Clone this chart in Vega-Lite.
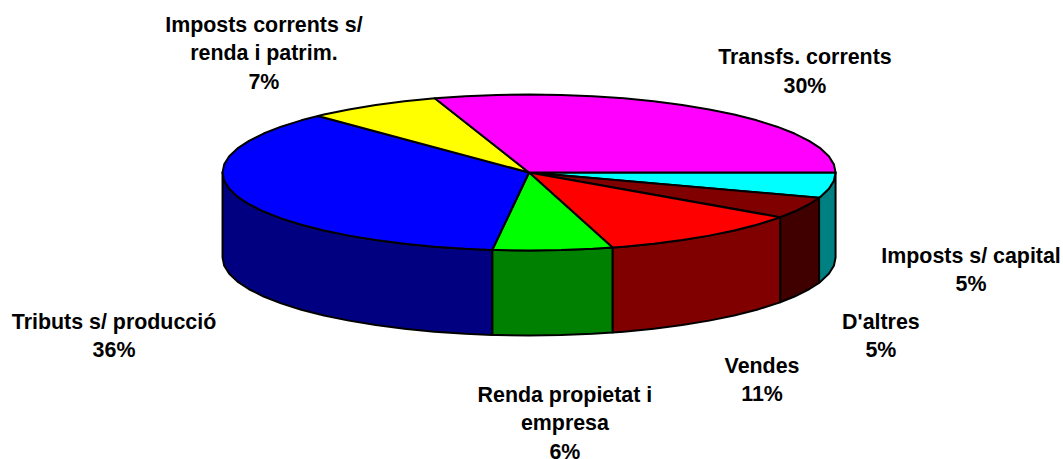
{"$schema":"https://vega.github.io/schema/vega-lite/v6.json","width":1063,"height":459,"padding":0,"autosize":"none","background":"white","config":{"view":{"stroke":null}},
"datasets":{"labels":[
{"label":"Imposts corrents s/\nrenda i patrim.\n7%","x":-86.5,"y":-188.5},
{"label":"Transfs. corrents\n30%","x":90,"y":-146.4},
{"label":"Imposts s/ capital\n5%","x":144.2,"y":108.1},
{"label":"D'altres\n5%","x":114.8,"y":192.7},
{"label":"Vendes\n11%","x":76,"y":249.1},
{"label":"Renda propietat i\nempresa\n6%","x":11.7,"y":286.1},
{"label":"Tributs s/ producció\n36%","x":-135.4,"y":192.6}],
"shapes":[
{"part":"Imposts s/ capital side","x":100,"y":0},{"part":"Imposts s/ capital side","x":99.45,"y":10.45},{"part":"Imposts s/ capital side","x":97.81,"y":20.79},{"part":"Imposts s/ capital side","x":95.11,"y":30.9},{"part":"Imposts s/ capital side","x":94.61,"y":32.39},{"part":"Imposts s/ capital side","x":94.61,"y":141.39},{"part":"Imposts s/ capital side","x":95.11,"y":139.9},{"part":"Imposts s/ capital side","x":97.81,"y":129.79},{"part":"Imposts s/ capital side","x":99.45,"y":119.45},{"part":"Imposts s/ capital side","x":100,"y":109},{"part":"Imposts s/ capital side","x":100,"y":0},
{"part":"D'altres side","x":94.61,"y":32.39},{"part":"D'altres side","x":91.35,"y":40.67},{"part":"D'altres side","x":86.6,"y":50},{"part":"D'altres side","x":81.92,"y":57.36},{"part":"D'altres side","x":81.92,"y":166.36},{"part":"D'altres side","x":86.6,"y":159},{"part":"D'altres side","x":91.35,"y":149.67},{"part":"D'altres side","x":94.61,"y":141.39},{"part":"D'altres side","x":94.61,"y":32.39},
{"part":"Vendes side","x":81.92,"y":57.36},{"part":"Vendes side","x":80.9,"y":58.78},{"part":"Vendes side","x":74.31,"y":66.91},{"part":"Vendes side","x":66.91,"y":74.31},{"part":"Vendes side","x":58.78,"y":80.9},{"part":"Vendes side","x":50,"y":86.6},{"part":"Vendes side","x":40.67,"y":91.35},{"part":"Vendes side","x":30.9,"y":95.11},{"part":"Vendes side","x":27.23,"y":96.22},{"part":"Vendes side","x":27.23,"y":205.22},{"part":"Vendes side","x":30.9,"y":204.11},{"part":"Vendes side","x":40.67,"y":200.35},{"part":"Vendes side","x":50,"y":195.6},{"part":"Vendes side","x":58.78,"y":189.9},{"part":"Vendes side","x":66.91,"y":183.31},{"part":"Vendes side","x":74.31,"y":175.91},{"part":"Vendes side","x":80.9,"y":167.78},{"part":"Vendes side","x":81.92,"y":166.36},{"part":"Vendes side","x":81.92,"y":57.36},
{"part":"Renda side","x":27.23,"y":96.22},{"part":"Renda side","x":20.79,"y":97.81},{"part":"Renda side","x":10.45,"y":99.45},{"part":"Renda side","x":0,"y":100},{"part":"Renda side","x":-10.45,"y":99.45},{"part":"Renda side","x":-12.01,"y":99.28},{"part":"Renda side","x":-12.01,"y":208.28},{"part":"Renda side","x":-10.45,"y":208.45},{"part":"Renda side","x":0,"y":209},{"part":"Renda side","x":10.45,"y":208.45},{"part":"Renda side","x":20.79,"y":206.81},{"part":"Renda side","x":27.23,"y":205.22},{"part":"Renda side","x":27.23,"y":96.22},
{"part":"Tributs side","x":-12.01,"y":99.28},{"part":"Tributs side","x":-20.79,"y":97.81},{"part":"Tributs side","x":-30.9,"y":95.11},{"part":"Tributs side","x":-40.67,"y":91.35},{"part":"Tributs side","x":-50,"y":86.6},{"part":"Tributs side","x":-58.78,"y":80.9},{"part":"Tributs side","x":-66.91,"y":74.31},{"part":"Tributs side","x":-74.31,"y":66.91},{"part":"Tributs side","x":-80.9,"y":58.78},{"part":"Tributs side","x":-86.6,"y":50},{"part":"Tributs side","x":-91.35,"y":40.67},{"part":"Tributs side","x":-95.11,"y":30.9},{"part":"Tributs side","x":-97.81,"y":20.79},{"part":"Tributs side","x":-99.45,"y":10.45},{"part":"Tributs side","x":-100,"y":0},{"part":"Tributs side","x":-100,"y":109},{"part":"Tributs side","x":-99.45,"y":119.45},{"part":"Tributs side","x":-97.81,"y":129.79},{"part":"Tributs side","x":-95.11,"y":139.9},{"part":"Tributs side","x":-91.35,"y":149.67},{"part":"Tributs side","x":-86.6,"y":159},{"part":"Tributs side","x":-80.9,"y":167.78},{"part":"Tributs side","x":-74.31,"y":175.91},{"part":"Tributs side","x":-66.91,"y":183.31},{"part":"Tributs side","x":-58.78,"y":189.9},{"part":"Tributs side","x":-50,"y":195.6},{"part":"Tributs side","x":-40.67,"y":200.35},{"part":"Tributs side","x":-30.9,"y":204.11},{"part":"Tributs side","x":-20.79,"y":206.81},{"part":"Tributs side","x":-12.01,"y":208.28},{"part":"Tributs side","x":-12.01,"y":99.28},
{"part":"Imposts s/ capital","x":0,"y":0},{"part":"Imposts s/ capital","x":100,"y":0},{"part":"Imposts s/ capital","x":99.45,"y":10.45},{"part":"Imposts s/ capital","x":97.81,"y":20.79},{"part":"Imposts s/ capital","x":95.11,"y":30.9},{"part":"Imposts s/ capital","x":94.61,"y":32.39},{"part":"Imposts s/ capital","x":0,"y":0},
{"part":"D'altres","x":0,"y":0},{"part":"D'altres","x":94.61,"y":32.39},{"part":"D'altres","x":91.35,"y":40.67},{"part":"D'altres","x":86.6,"y":50},{"part":"D'altres","x":81.92,"y":57.36},{"part":"D'altres","x":0,"y":0},
{"part":"Vendes","x":0,"y":0},{"part":"Vendes","x":81.92,"y":57.36},{"part":"Vendes","x":80.9,"y":58.78},{"part":"Vendes","x":74.31,"y":66.91},{"part":"Vendes","x":66.91,"y":74.31},{"part":"Vendes","x":58.78,"y":80.9},{"part":"Vendes","x":50,"y":86.6},{"part":"Vendes","x":40.67,"y":91.35},{"part":"Vendes","x":30.9,"y":95.11},{"part":"Vendes","x":27.23,"y":96.22},{"part":"Vendes","x":0,"y":0},
{"part":"Renda","x":0,"y":0},{"part":"Renda","x":27.23,"y":96.22},{"part":"Renda","x":20.79,"y":97.81},{"part":"Renda","x":10.45,"y":99.45},{"part":"Renda","x":0,"y":100},{"part":"Renda","x":-10.45,"y":99.45},{"part":"Renda","x":-12.01,"y":99.28},{"part":"Renda","x":0,"y":0},
{"part":"Tributs","x":0,"y":0},{"part":"Tributs","x":-12.01,"y":99.28},{"part":"Tributs","x":-20.79,"y":97.81},{"part":"Tributs","x":-30.9,"y":95.11},{"part":"Tributs","x":-40.67,"y":91.35},{"part":"Tributs","x":-50,"y":86.6},{"part":"Tributs","x":-58.78,"y":80.9},{"part":"Tributs","x":-66.91,"y":74.31},{"part":"Tributs","x":-74.31,"y":66.91},{"part":"Tributs","x":-80.9,"y":58.78},{"part":"Tributs","x":-86.6,"y":50},{"part":"Tributs","x":-91.35,"y":40.67},{"part":"Tributs","x":-95.11,"y":30.9},{"part":"Tributs","x":-97.81,"y":20.79},{"part":"Tributs","x":-99.45,"y":10.45},{"part":"Tributs","x":-100,"y":0},{"part":"Tributs","x":-99.45,"y":-10.45},{"part":"Tributs","x":-97.81,"y":-20.79},{"part":"Tributs","x":-95.11,"y":-30.9},{"part":"Tributs","x":-91.35,"y":-40.67},{"part":"Tributs","x":-86.6,"y":-50},{"part":"Tributs","x":-80.9,"y":-58.78},{"part":"Tributs","x":-74.31,"y":-66.91},{"part":"Tributs","x":-68.83,"y":-72.54},{"part":"Tributs","x":0,"y":0},
{"part":"Imposts corrents","x":0,"y":0},{"part":"Imposts corrents","x":-68.83,"y":-72.54},{"part":"Imposts corrents","x":-66.91,"y":-74.31},{"part":"Imposts corrents","x":-58.78,"y":-80.9},{"part":"Imposts corrents","x":-50,"y":-86.6},{"part":"Imposts corrents","x":-40.67,"y":-91.35},{"part":"Imposts corrents","x":-30.74,"y":-95.18},{"part":"Imposts corrents","x":0,"y":0},
{"part":"Transfs","x":0,"y":0},{"part":"Transfs","x":-30.74,"y":-95.18},{"part":"Transfs","x":-20.79,"y":-97.81},{"part":"Transfs","x":-10.45,"y":-99.45},{"part":"Transfs","x":0,"y":-100},{"part":"Transfs","x":10.45,"y":-99.45},{"part":"Transfs","x":20.79,"y":-97.81},{"part":"Transfs","x":30.9,"y":-95.11},{"part":"Transfs","x":40.67,"y":-91.35},{"part":"Transfs","x":50,"y":-86.6},{"part":"Transfs","x":58.78,"y":-80.9},{"part":"Transfs","x":66.91,"y":-74.31},{"part":"Transfs","x":74.31,"y":-66.91},{"part":"Transfs","x":80.9,"y":-58.78},{"part":"Transfs","x":86.6,"y":-50},{"part":"Transfs","x":91.35,"y":-40.67},{"part":"Transfs","x":95.11,"y":-30.9},{"part":"Transfs","x":97.81,"y":-20.79},{"part":"Transfs","x":99.45,"y":-10.45},{"part":"Transfs","x":100,"y":0},{"part":"Transfs","x":0,"y":0}
]},
"layer":[
{"data":{"name":"shapes"},"mark":{"type":"line","filled":true,"stroke":"black","strokeWidth":2,"strokeJoin":"round"},
"encoding":{"x":{"field":"x","type":"quantitative","axis":null,"scale":{"domain":[-172.6,174.2],"nice":false,"zero":false}},
"y":{"field":"y","type":"quantitative","axis":null,"scale":{"domain":[367.3,-221.2],"nice":false,"zero":false}},
"order":{"value":null},
"color":{"field":"part","type":"nominal","legend":null,"sort":null,"scale":{"domain":["Imposts s/ capital side","D'altres side","Vendes side","Renda side","Tributs side","Imposts s/ capital","D'altres","Vendes","Renda","Tributs","Imposts corrents","Transfs"],"range":["#008080","#400000","#800000","#008000","#000080","#00FFFF","#800000","#FF0000","#00FF00","#0000FF","#FFFF00","#FF00FF"]}}}},
{"data":{"name":"labels"},"mark":{"type":"text","font":"Liberation Sans","fontWeight":"bold","fontSize":21.4,"lineBreak":"\n","lineHeight":28.6,"align":"center","baseline":"middle","color":"black"},
"encoding":{"x":{"field":"x","type":"quantitative"},"y":{"field":"y","type":"quantitative"},"text":{"field":"label","type":"nominal"}}}
]}
